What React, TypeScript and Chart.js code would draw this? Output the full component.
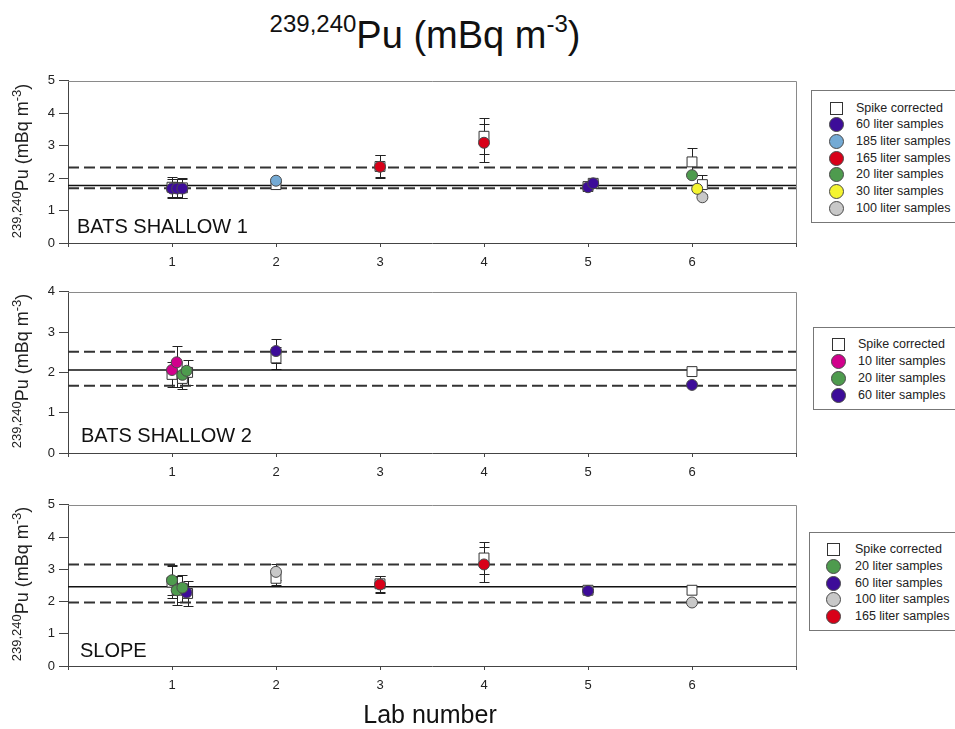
import React, { useEffect, useRef } from "react";
import { Chart, registerables } from "chart.js";
Chart.register(...registerables);

// [lab position, value (mBq m-3), error]
type P = [number, number, number];

const FONT = "'Liberation Sans', Arial, sans-serif";
const labTickLabels = ["1", "2", "3", "4", "5", "6"];

// ---------- Panel 1: BATS SHALLOW 1 ----------
const p1Ref = [2.33, 1.77, 1.69]; // upper, mean, lower
const p1Spike: P[] = [[1.0, 1.72, 0.3], [1.05, 1.7, 0.28], [1.1, 1.7, 0.3], [2.0, 1.8, 0.08], [3.0, 2.36, 0.34], [4.0, 3.29, 0.56], [5.0, 1.74, 0.04], [5.05, 1.84, 0.04], [6.0, 2.5, 0.42], [6.1, 1.8, 0.3]];
const p1L60: P[] = [[1.0, 1.68, 0.3], [1.05, 1.68, 0.3], [1.1, 1.68, 0.3], [5.0, 1.72, 0], [5.05, 1.84, 0]];
const p1L185: P[] = [[2.0, 1.92, 0]];
const p1L165: P[] = [[3.0, 2.35, 0.35], [4.0, 3.09, 0.58]];
const p1L20: P[] = [[6.0, 2.09, 0]];
const p1L30: P[] = [[6.05, 1.67, 0]];
const p1L100: P[] = [[6.1, 1.41, 0]];

// ---------- Panel 2: BATS SHALLOW 2 ----------
const p2Ref = [2.51, 2.06, 1.67];
const p2Spike: P[] = [[1.0, 1.95, 0.3], [1.05, 2.15, 0.5], [1.1, 1.85, 0.25], [1.15, 2.0, 0.32], [2.0, 2.36, 0.28], [6.0, 2.02, 0]];
const p2L10: P[] = [[1.0, 2.06, 0], [1.045, 2.25, 0]];
const p2L20: P[] = [[1.1, 1.94, 0], [1.14, 2.04, 0]];
const p2L60: P[] = [[2.0, 2.53, 0.3], [6.0, 1.69, 0]];

// ---------- Panel 3: SLOPE ----------
const p3Ref = [3.15, 2.46, 1.97];
const p3Spike: P[] = [[1.0, 2.6, 0.5], [1.05, 2.35, 0.45], [1.1, 2.4, 0.42], [1.15, 2.25, 0.38], [2.0, 2.72, 0.22], [3.0, 2.55, 0.25], [4.0, 3.35, 0.5], [5.0, 2.35, 0.05], [6.0, 2.35, 0]];
const p3L20: P[] = [[1.0, 2.66, 0.47], [1.045, 2.35, 0], [1.1, 2.43, 0]];
const p3L60: P[] = [[1.14, 2.28, 0], [5.0, 2.33, 0]];
const p3L100: P[] = [[2.0, 2.92, 0.25], [6.0, 1.97, 0]];
const p3L165: P[] = [[3.0, 2.53, 0.26], [4.0, 3.15, 0.53]];

const C = {
  purple: "#3D0C99",
  blue: "#74AAD4",
  red: "#D80018",
  green: "#4E9B4E",
  yellow: "#F4F430",
  grey: "#C8C8C8",
  pink: "#D1008C",
};

type Series = { label: string; color: string; pts: P[] };

const errorBars = {
  id: "errorBars",
  beforeDatasetsDraw(chart: any) {
    const { ctx } = chart;
    const xs = chart.scales.x, ys = chart.scales.y;
    ctx.save();
    ctx.strokeStyle = "#222";
    ctx.lineWidth = 1;
    chart.data.datasets.forEach((ds: any) => {
      if (!ds.errs) return;
      ds.data.forEach((pt: any, i: number) => {
        const e = ds.errs[i];
        if (!e) return;
        const px = Math.round(xs.getPixelForValue(pt.x)) + 0.5;
        const t = Math.round(ys.getPixelForValue(pt.y + e)) + 0.5;
        const b = Math.round(ys.getPixelForValue(pt.y - e)) + 0.5;
        ctx.beginPath();
        ctx.moveTo(px, t); ctx.lineTo(px, b);
        ctx.moveTo(px - 5, t); ctx.lineTo(px + 5, t);
        ctx.moveTo(px - 5, b); ctx.lineTo(px + 5, b);
        ctx.stroke();
      });
    });
    ctx.restore();
  },
};

const frame = {
  id: "frame",
  afterDraw(chart: any) {
    const { ctx, chartArea: a } = chart;
    ctx.save();
    ctx.strokeStyle = "#8a8a8a";
    ctx.lineWidth = 1;
    ctx.beginPath();
    ctx.moveTo(Math.round(a.left), Math.round(a.top) + 0.5);
    ctx.lineTo(Math.round(a.right) + 0.5, Math.round(a.top) + 0.5);
    ctx.lineTo(Math.round(a.right) + 0.5, Math.round(a.bottom));
    ctx.stroke();
    ctx.restore();
  },
};

const CANVAS_W = 810;
const PAD_TOP = 10;
const X_AXIS_H = 35;

function Panel(props: { top: number; bottom: number; yMax: number; refs: number[]; spike: P[]; series: Series[] }) {
  const ref = useRef<HTMLCanvasElement>(null);
  const { top, bottom, yMax, refs, spike, series } = props;
  const h = bottom - top + PAD_TOP + X_AXIS_H;
  useEffect(() => {
    const datasets: any[] = [];
    series.forEach((s) => {
      datasets.push({
        label: s.label,
        data: s.pts.map((p) => ({ x: p[0], y: p[1] })),
        errs: s.pts.map((p) => p[2]),
        backgroundColor: s.color,
        borderColor: "#4a4a4a",
        borderWidth: 1,
        pointStyle: "circle",
        pointRadius: 5.5,
        order: 1,
      });
    });
    datasets.push({
      label: "Spike corrected",
      data: spike.map((p) => ({ x: p[0], y: p[1] })),
      errs: spike.map((p) => p[2]),
      backgroundColor: "#ffffff",
      borderColor: "#333",
      borderWidth: 1,
      pointStyle: "rect",
      pointRadius: 7,
      order: 2,
    });
    refs.forEach((v, i) => {
      datasets.push({
        label: i === 1 ? "mean" : "limit",
        data: [{ x: 0, y: v }, { x: 7, y: v }],
        showLine: true,
        pointRadius: 0,
        borderColor: i === 1 ? "#111" : "#333",
        borderWidth: i === 1 ? 1.5 : 2,
        borderDash: i === 1 ? [] : [11, 5],
        order: 3,
      });
    });
    const tickFont = { family: FONT, size: 13 };
    const chart = new Chart(ref.current!, {
      type: "scatter",
      data: { datasets },
      plugins: [errorBars, frame],
      options: {
        animation: false,
        responsive: false,
        events: [],
        layout: { padding: { top: PAD_TOP, right: CANVAS_W - 796, left: 0, bottom: 0 } },
        plugins: { legend: { display: false }, tooltip: { enabled: false } },
        scales: {
          x: {
            type: "linear",
            min: 0,
            max: 7,
            afterFit: (s: any) => { s.height = X_AXIS_H; },
            ticks: {
              stepSize: 1,
              autoSkip: false,
              maxRotation: 0,
              padding: 8,
              color: "#222",
              font: tickFont,
              callback: (v: any) => (v >= 1 && v <= 6 ? labTickLabels[v - 1] : ""),
            },
            grid: { drawOnChartArea: false, tickLength: 4, color: "#444" },
            border: { color: "#444", width: 1 },
          },
          y: {
            type: "linear",
            min: 0,
            max: yMax,
            afterFit: (s: any) => { s.width = 68; },
            ticks: { stepSize: 1, padding: 4, color: "#222", font: tickFont },
            grid: { drawOnChartArea: false, tickLength: 9, color: "#444" },
            border: { color: "#444", width: 1 },
          },
        },
      } as any,
    });
    return () => chart.destroy();
  }, []);
  return (
    <canvas
      ref={ref}
      width={CANVAS_W}
      height={h}
      style={{ position: "absolute", left: 0, top: top - PAD_TOP, width: CANVAS_W, height: h }}
    />
  );
}

function Sup(props: { children: any; size: number; raise: number }) {
  return (
    <span style={{ fontSize: props.size, position: "relative", top: -props.raise }}>{props.children}</span>
  );
}

function YTitle(props: { cx: number; cy: number }) {
  return (
    <div
      style={{
        position: "absolute",
        left: props.cx - 100,
        top: props.cy - 10,
        width: 200,
        height: 20,
        lineHeight: "20px",
        textAlign: "center",
        transform: "rotate(-90deg)",
        fontFamily: FONT,
        fontSize: 18,
        color: "#222",
        whiteSpace: "nowrap",
      }}
    >
      <Sup size={13} raise={7}>239,240</Sup>Pu (mBq m<Sup size={13} raise={7}>-3</Sup>)
    </div>
  );
}

function PanelLabel(props: { text: string; x: number; baseline: number }) {
  return (
    <div
      style={{
        position: "absolute",
        left: props.x,
        top: props.baseline - 17,
        lineHeight: "20px",
        fontSize: 20,
        fontFamily: FONT,
        color: "#111",
        whiteSpace: "nowrap",
      }}
    >
      {props.text}
    </div>
  );
}

function Legend(props: { left: number; top: number; bottom: number; symX: number; textX: number; rows: number[]; items: { label: string; color: string | null }[] }) {
  const { left, top, bottom, symX, textX, rows, items } = props;
  return (
    <div
      style={{
        position: "absolute",
        left,
        top,
        width: 180,
        height: bottom - top,
        border: "1px solid #777",
        boxSizing: "border-box",
        background: "#fff",
      }}
    >
      {items.map((it, i) => (
        <div key={i} style={{ position: "absolute", left: 0, top: rows[i] - top - 9, height: 18, width: 170 }}>
          {it.color === null ? (
            <div style={{ position: "absolute", left: symX - left - 6, top: 3, width: 11, height: 11, border: "1px solid #333", background: "#fff" }} />
          ) : (
            <div style={{ position: "absolute", left: symX - left - 7, top: 2, width: 13, height: 13, borderRadius: "50%", border: "1px solid #4a4a4a", background: it.color }} />
          )}
          <div style={{ position: "absolute", left: textX - left - 1, top: 0, lineHeight: "18px", fontSize: 12.5, fontFamily: FONT, color: "#222", whiteSpace: "nowrap" }}>
            {it.label}
          </div>
        </div>
      ))}
    </div>
  );
}

export default function App() {
  const p1Series: Series[] = [
    { label: "60 liter samples", color: C.purple, pts: p1L60 },
    { label: "185 liter samples", color: C.blue, pts: p1L185 },
    { label: "165 liter samples", color: C.red, pts: p1L165 },
    { label: "20 liter samples", color: C.green, pts: p1L20 },
    { label: "30 liter samples", color: C.yellow, pts: p1L30 },
    { label: "100 liter samples", color: C.grey, pts: p1L100 },
  ];
  const p2Series: Series[] = [
    { label: "10 liter samples", color: C.pink, pts: p2L10 },
    { label: "20 liter samples", color: C.green, pts: p2L20 },
    { label: "60 liter samples", color: C.purple, pts: p2L60 },
  ];
  const p3Series: Series[] = [
    { label: "20 liter samples", color: C.green, pts: p3L20 },
    { label: "60 liter samples", color: C.purple, pts: p3L60 },
    { label: "100 liter samples", color: C.grey, pts: p3L100 },
    { label: "165 liter samples", color: C.red, pts: p3L165 },
  ];
  const legItems = (s: Series[]) => [{ label: "Spike corrected", color: null as string | null }, ...s.map((x) => ({ label: x.label, color: x.color as string | null }))];

  return (
    <div style={{ position: "fixed", left: 0, top: 0, width: 955, height: 729, background: "#fff", overflow: "hidden" }}>
      <div style={{ position: "absolute", left: 0, top: 16, width: 850, textAlign: "center", fontFamily: FONT, fontSize: 38, lineHeight: "38px", color: "#111", whiteSpace: "nowrap" }}>
        <Sup size={24} raise={16}>239,240</Sup>Pu (mBq m<Sup size={24} raise={16}>-3</Sup>)
      </div>

      <Panel top={79} bottom={243} yMax={5} refs={p1Ref} spike={p1Spike} series={p1Series} />
      <Panel top={290} bottom={453} yMax={4} refs={p2Ref} spike={p2Spike} series={p2Series} />
      <Panel top={503} bottom={666} yMax={5} refs={p3Ref} spike={p3Spike} series={p3Series} />

      <PanelLabel text="BATS SHALLOW 1" x={77} baseline={233} />
      <PanelLabel text="BATS SHALLOW 2" x={81} baseline={442} />
      <PanelLabel text="SLOPE" x={80} baseline={657} />

      <YTitle cx={22} cy={161} />
      <YTitle cx={22} cy={371} />
      <YTitle cx={22} cy={584} />

      <Legend left={811} top={90} bottom={223} symX={835} textX={856} rows={[106.7, 123.3, 140, 156.7, 173.3, 190, 206.7]} items={legItems(p1Series)} />
      <Legend left={813} top={327} bottom={410} symX={837} textX={858} rows={[343.3, 360, 377, 394]} items={legItems(p2Series)} />
      <Legend left={809} top={532} bottom={631} symX={832} textX={855} rows={[548.3, 565, 581.7, 598.3, 615]} items={legItems(p3Series)} />

      <div style={{ position: "absolute", left: 0, top: 700, width: 860, textAlign: "center", fontFamily: FONT, fontSize: 25, lineHeight: "28px", color: "#111" }}>
        Lab number
      </div>
    </div>
  );
}
